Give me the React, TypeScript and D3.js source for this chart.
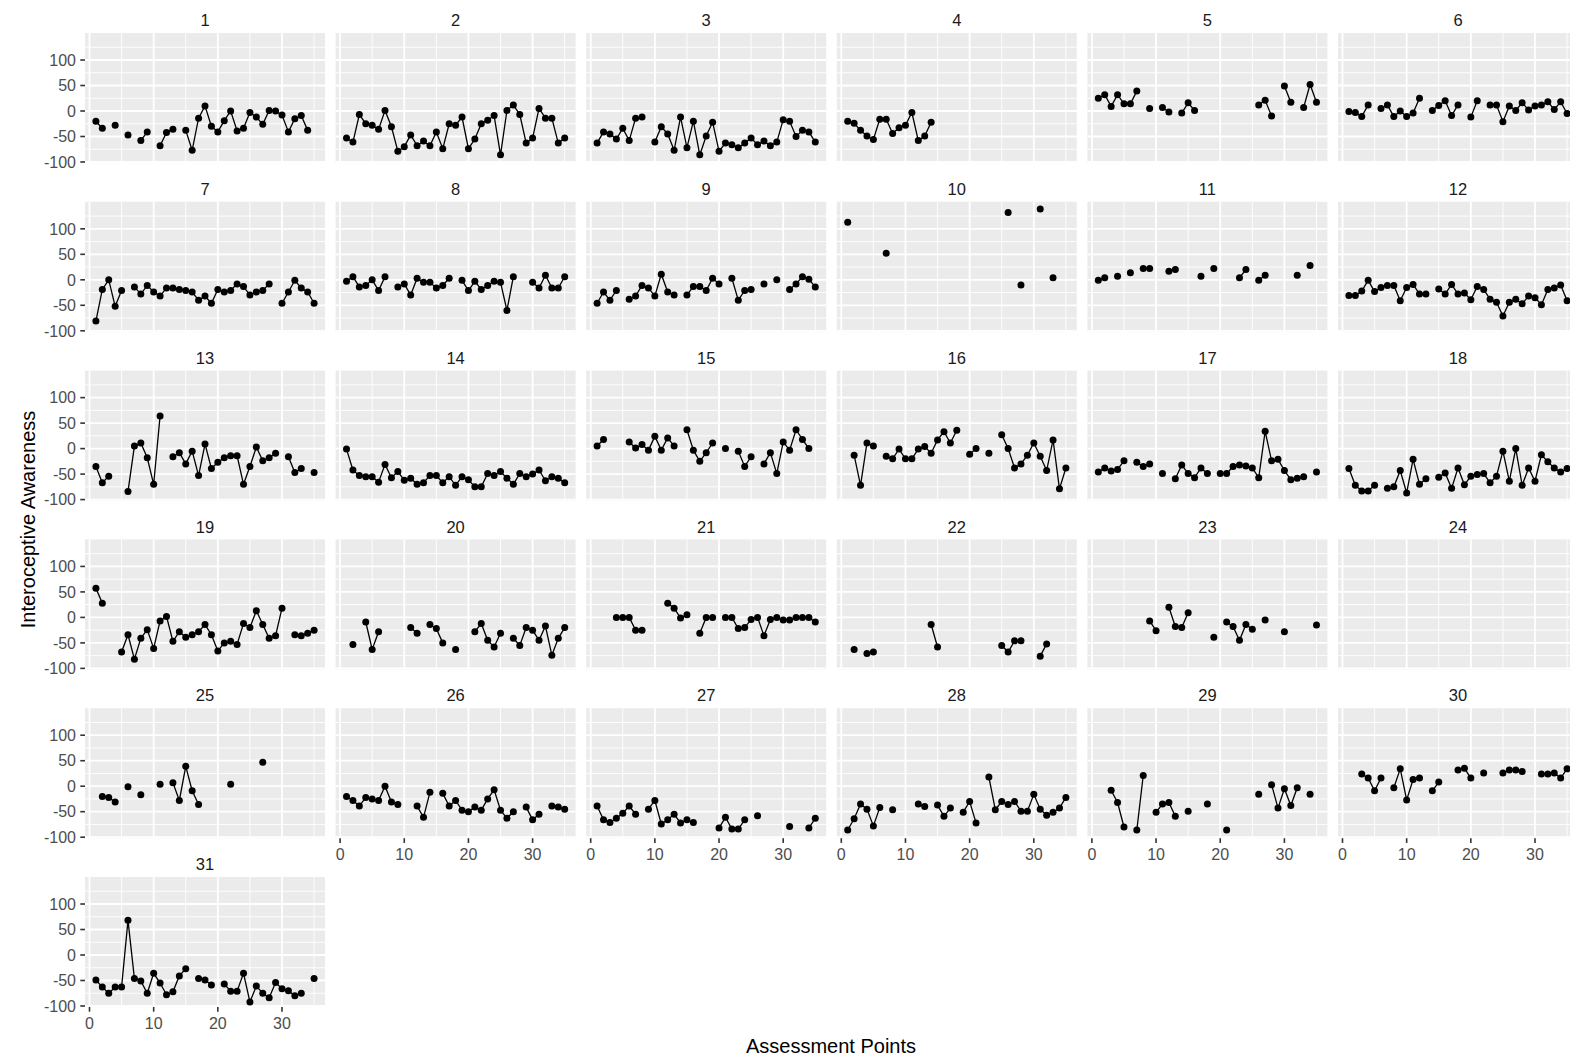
import React from 'react';
import * as d3 from 'd3';

// missing assessment = gap in the line
const _ = null;

const assessmentPoints = [1, 2, 3, 4, 5, 6, 7, 8, 9, 10, 11, 12, 13, 14, 15, 16, 17, 18, 19, 20, 21, 22, 23, 24, 25, 26, 27, 28, 29, 30, 31, 32, 33, 34, 35];

const p1 = [-20, -34, _, -28, _, -47, _, -58, -41, _, -68, -42, -36, _, -38, -77, -14, 10, -30, -41, -19, 0, -39, -34, -3, -12, -26, 1, 0, -8, -41, -15, -9, -38, _];
const p2 = [-53, -61, -7, -25, -28, -36, 1, -31, -79, -70, -47, -68, -59, -68, -41, -74, -25, -28, -12, -74, -55, -25, -18, -9, -86, 1, 12, -7, -63, -53, 5, -14, -14, -63, -53];
const p3 = [-63, -41, -45, -55, -34, -58, -14, -12, _, -61, -31, -45, -77, -12, -72, -20, -86, -49, -22, -79, -63, -66, -72, -63, -53, -66, -59, -68, -61, -17, -20, -50, -38, -41, -61];
const p4 = [-20, -24, -38, -49, -56, -16, -16, -44, -33, -28, -3, -58, -49, -22, _, _, _, _, _, _, _, _, _, _, _, _, _, _, _, _, _, _, _, _, _];
const p5 = [25, 32, 9, 32, 14, 14, 39, _, 5, _, 7, -2, _, -4, 16, 1, _, _, _, _, _, _, _, _, _, 12, 21, -10, _, 49, 17, _, 7, 52, 17];
const p6 = [-1, -3, -11, 12, _, 5, 12, -11, 0, -11, -4, 25, _, 1, 11, 20, -9, 12, _, -12, 20, _, 12, 12, -21, 10, 1, 16, 2, 10, 12, 18, 3, 18, -5];
const p7 = [-81, -19, 0, -52, -21, _, -14, -28, -11, -24, -32, -16, -16, -19, -21, -24, -40, -32, -46, -19, -24, -21, -8, -13, -30, -24, -21, -8, _, -46, -24, -1, -16, -24, -46];
const p8 = [-3, 6, -14, -11, 0, -21, 6, _, -14, -8, -30, 3, -5, -5, -16, -11, 3, _, -1, -21, -3, -19, -11, -3, -5, -60, 6, _, _, -5, -16, 9, -16, -16, 6];
const p9 = [-46, -24, -40, -21, _, -38, -32, -11, -16, -32, 11, -24, -30, _, -30, -13, -13, -21, 3, -8, _, 3, -40, -21, -19, _, -8, _, 0, _, -19, -8, 6, 1, -14];
const p10 = [113, _, _, _, _, _, 52, _, _, _, _, _, _, _, _, _, _, _, _, _, _, _, _, _, _, 132, _, -10, _, _, 139, _, 4, _, _];
const p11 = [-1, 4, _, 7, _, 14, _, 22, 22, _, _, 17, 20, _, _, _, 7, _, 22, _, _, _, 4, 20, _, -1, 9, _, _, _, _, 9, _, 28, _];
const p12 = [-31, -31, -22, -1, -23, -15, -11, -11, -41, -15, -9, -28, -28, _, -18, -28, -9, -28, -26, -39, -13, -19, -38, -44, -71, -44, -38, -47, -32, -35, -49, -19, -16, -10, -41];
const p13 = [-35, -67, -54, _, _, -84, 5, 11, -18, -70, 64, _, -16, -8, -30, -5, -53, 9, -39, -27, -18, -14, -14, -70, -35, 3, -24, -18, -9, _, -16, -47, -39, _, -47];
const p14 = [-1, -42, -53, -55, -55, -66, -31, -57, -45, -62, -58, -70, -67, -53, -53, -67, -55, -72, -55, -61, -75, -75, -49, -53, -45, -58, -70, -49, -55, -50, -42, -63, -55, -58, -67];
const p15 = [5, 18, _, _, _, 13, 1, 8, -3, 24, -3, 21, 5, _, 37, -3, -25, -8, 11, _, 0, _, -5, -35, -16, _, -30, -8, -49, 13, -3, 37, 18, 0, _];
const p16 = [_, -13, -72, 11, 5, _, -15, -20, -1, -20, -20, -1, 4, -9, 17, 33, 11, 36, _, -11, 0, _, -9, _, 27, 0, -38, -30, -13, 11, -15, -43, 17, -79, -38];
const p17 = [-46, -38, -44, -41, -24, _, -27, -35, -30, _, -49, _, -59, -32, -49, -57, -38, -49, _, -49, -49, -35, -32, -34, -38, -57, 34, -24, -21, -43, -61, -58, -55, _, -46];
const p18 = [-39, -72, -83, -83, -72, _, -78, -75, -43, -87, -21, -70, -59, _, -56, -48, -78, -38, -71, -54, -51, -49, -67, -54, -5, -64, 0, -72, -38, -64, -12, -26, -38, -46, -39];
const p19 = [57, 28, _, _, -68, -34, -82, -41, -24, -61, -7, 2, -47, -28, -39, -34, -28, -14, -34, -66, -50, -47, -53, -12, -20, 13, -14, -41, -36, 18, _, -34, -36, -31, -25];
const p20 = [_, -53, _, -9, -63, -28, _, _, _, _, -20, -31, _, -14, -22, -50, _, -63, _, _, -28, -12, -45, -58, -31, _, -41, -55, -20, -25, -45, -17, -74, -41, -20];
const p21 = [_, _, _, 0, 0, 0, -25, -25, _, _, _, 28, 18, -1, 5, _, -31, 0, 0, _, 0, 0, -22, -20, -4, 0, -36, -4, 0, -5, -5, 0, 0, 0, -9];
const p22 = [_, -63, _, -71, -68, _, _, _, _, _, _, _, _, -14, -58, _, _, _, _, _, _, _, _, _, -55, -68, -46, -46, _, _, -76, -52, _, _, _];
const p23 = [_, _, _, _, _, _, _, _, -7, -26, _, 20, -18, -20, 9, _, _, _, -39, _, -9, -18, -45, -14, -23, _, -5, _, _, -28, _, _, _, _, -15];
const p24 = [_, _, _, _, _, _, _, _, _, _, _, _, _, _, _, _, _, _, _, _, _, _, _, _, _, _, _, _, _, _, _, _, _, _, _];
const p25 = [_, -20, -22, -31, _, -1, _, -17, _, _, 4, _, 7, -28, 39, -9, -36, _, _, _, _, 4, _, _, _, _, 47, _, _, _, _, _, _, _, _];
const p26 = [-20, -28, -39, -22, -25, -28, 0, -31, -36, _, _, -39, -61, -12, _, -14, -39, -28, -47, -50, -41, -47, -25, -7, -47, -63, -50, _, -41, -66, -55, _, -39, -41, -45];
const p27 = [-39, -66, -71, -63, -53, -39, -55, _, -45, -28, -74, -66, -55, -72, -66, -71, _, _, _, -82, -61, -84, -84, -66, _, -58, _, _, _, _, -79, _, _, -82, -63];
const p28 = [-86, -64, -35, -45, -78, -42, _, -46, _, _, _, -35, -40, _, -37, -59, -43, _, -51, -30, -72, _, 18, -46, -30, -36, -30, -49, -49, -16, -45, -57, -51, -43, -22];
const p29 = [_, _, -8, -32, -80, _, -86, 21, _, -51, -35, -32, -59, _, -49, _, _, -35, _, _, -86, _, _, _, _, -16, _, 3, -43, -5, -38, -3, _, -16, _];
const p30 = [_, _, 24, 16, -9, 16, _, -3, 34, -27, 13, 16, _, -9, 8, _, _, 32, 35, 16, _, 26, _, _, 26, 32, 32, 29, _, _, 24, 24, 26, 16, 34];
const p31 = [-49, -63, -75, -63, -63, 68, -46, -51, -75, -36, -55, -78, -72, -41, -27, _, -46, -49, -59, _, -57, -71, -71, -36, -92, -61, -75, -84, -54, -66, -70, -80, -75, _, -46];

const participants = ['1', '2', '3', '4', '5', '6', '7', '8', '9', '10', '11', '12', '13', '14', '15', '16', '17', '18', '19', '20', '21', '22', '23', '24', '25', '26', '27', '28', '29', '30', '31'];
const series = [p1, p2, p3, p4, p5, p6, p7, p8, p9, p10, p11, p12, p13, p14, p15, p16, p17, p18, p19, p20, p21, p22, p23, p24, p25, p26, p27, p28, p29, p30, p31];

const yBreaks = [-100, -50, 0, 50, 100];
const yMinor = [-75, -25, 25, 75, 125];
const xBreaks = [0, 10, 20, 30];
const xMinor = [5, 15, 25, 35];

// layout (facet_wrap, 6 columns)
const NCOL = 6;
const PANEL_W = 240;
const PANEL_H = 130;
const LEFT0 = 85;
const TOP0 = 33;
const COL_STEP = 250.6;
const ROW_STEP = 168.8;
const FONT = '"Liberation Sans", Arial, sans-serif';

export default function App() {
  const x = d3.scaleLinear().domain([-0.7, 36.7]).range([0, PANEL_W]);
  const y = d3.scaleLinear().domain([-102, 153]).range([PANEL_H, 0]);

  const line = d3
    .line<[number, number | null]>()
    .defined((d) => d[1] != null)
    .x((d) => x(d[0]))
    .y((d) => y(d[1] as number));

  const n = participants.length;

  return (
    <div style={{ position: 'absolute', left: 0, top: 0 }}>
      <svg width={1570} height={1058} style={{ display: 'block', background: '#fff' }} fontFamily={FONT}>
        {participants.map((id, i) => {
          const col = i % NCOL;
          const row = Math.floor(i / NCOL);
          const left = LEFT0 + col * COL_STEP;
          const top = TOP0 + row * ROW_STEP;
          const pts = assessmentPoints.map((a, k) => [a, series[i][k]] as [number, number | null]);
          const showX = i + NCOL >= n;
          return (
            <g key={id} transform={`translate(${left},${top})`}>
              <text x={PANEL_W / 2} y={-6.8} textAnchor="middle" fontSize={16.5} fill="#1A1A1A">
                {id}
              </text>
              <rect width={PANEL_W} height={PANEL_H} fill="#EBEBEB" />
              {yMinor.map((v) => (
                <line key={'ym' + v} x1={0} x2={PANEL_W} y1={y(v)} y2={y(v)} stroke="#fff" strokeWidth={0.9} />
              ))}
              {xMinor.map((v) => (
                <line key={'xm' + v} x1={x(v)} x2={x(v)} y1={0} y2={PANEL_H} stroke="#fff" strokeWidth={0.9} />
              ))}
              {yBreaks.map((v) => (
                <line key={'yb' + v} x1={0} x2={PANEL_W} y1={y(v)} y2={y(v)} stroke="#fff" strokeWidth={1.8} />
              ))}
              {xBreaks.map((v) => (
                <line key={'xb' + v} x1={x(v)} x2={x(v)} y1={0} y2={PANEL_H} stroke="#fff" strokeWidth={1.8} />
              ))}
              <path d={line(pts) || ''} fill="none" stroke="#000" strokeWidth={1.3} />
              {pts
                .filter((d) => d[1] != null)
                .map((d) => (
                  <circle key={d[0]} cx={x(d[0])} cy={y(d[1] as number)} r={3.5} fill="#000" />
                ))}

              {col === 0 &&
                yBreaks.map((v) => (
                  <g key={'yt' + v} transform={`translate(0,${y(v)})`}>
                    <line x1={-4.7} x2={0} stroke="#333" strokeWidth={1.6} />
                    <text x={-9} dy="0.36em" textAnchor="end" fontSize={16} fill="#4D4D4D">
                      {v}
                    </text>
                  </g>
                ))}
              {showX &&
                xBreaks.map((v) => (
                  <g key={'xt' + v} transform={`translate(${x(v)},${PANEL_H})`}>
                    <line y1={0} y2={4.7} stroke="#333" strokeWidth={1.6} />
                    <text y={21.8} textAnchor="middle" fontSize={16} fill="#4D4D4D">
                      {v}
                    </text>
                  </g>
                ))}
            </g>
          );
        })}
        <text x={831} y={1052.5} textAnchor="middle" fontSize={20} fill="#000">
          Assessment Points
        </text>
        <text transform="translate(35,519.5) rotate(-90)" textAnchor="middle" fontSize={20} fill="#000">
          Interoceptive Awareness
        </text>
      </svg>
    </div>
  );
}
